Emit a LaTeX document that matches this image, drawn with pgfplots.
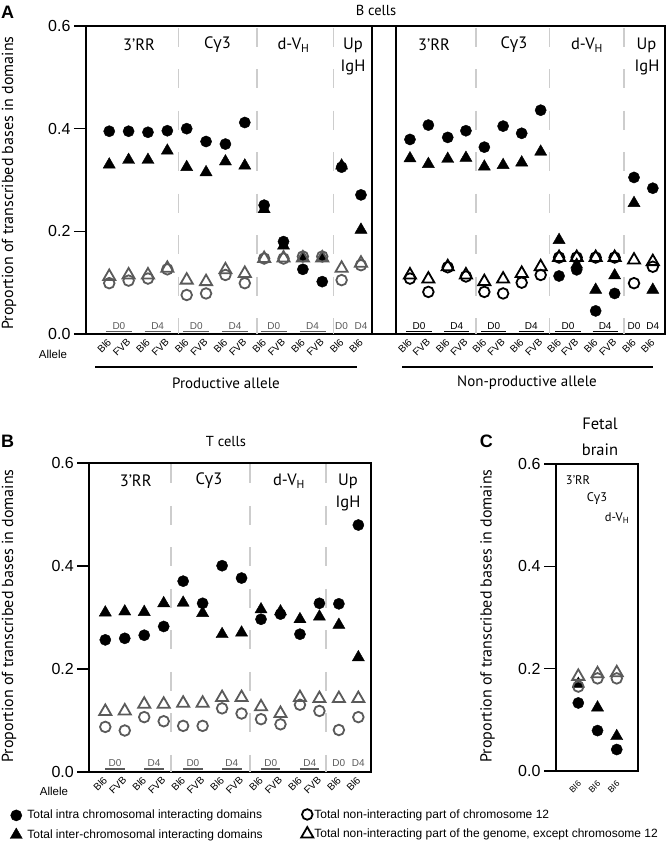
\documentclass[border=0pt]{standalone}
\usepackage{fontspec}
\setmainfont{PT Sans}
\newfontfamily\arial{Liberation Sans}
\newfontfamily\grf{Open Sans}
\usepackage{pgfplots}
\pgfplotsset{compat=1.18}
\usepackage{pgfplotstable}
\definecolor{og}{RGB}{90,90,90}
\definecolor{dsh}{RGB}{205,205,205}
\newcommand{\gam}{{\grf γ}}
\newcommand{\fs}[1]{\fontsize{#1}{#1}\selectfont}
% rotated allele label at an x position of the current axis
\newcommand{\xl}[2]{\node[font=\arial\fs{10}, inner sep=0pt, anchor=north east, xshift=-2.5pt, yshift=-4pt, rotate=45] at (axis cs:#1,0) {#2};}
\newcommand{\xlc}[2]{\node[font=\arial\fs{8.5}, inner sep=0pt, anchor=north east, xshift=-1pt, yshift=-9pt, rotate=45] at (axis cs:#1,0) {#2};}

\pgfplotstableread{
x fc ft oc ot
1 0.395 0.330 0.099 0.112
2 0.395 0.339 0.104 0.115
3 0.393 0.339 0.108 0.115
4 0.396 0.357 0.126 0.128
5 0.400 0.325 0.076 0.105
6 0.375 0.315 0.079 0.102
7 0.370 0.336 0.115 0.125
8 0.412 0.328 0.099 0.118
9 0.251 0.243 0.147 0.147
10 0.180 0.172 0.147 0.148
11 0.126 0.148 0.151 0.148
12 0.102 0.148 0.151 0.148
13 0.325 0.328 0.105 0.128
14 0.271 0.203 0.134 0.138
}\Aprod

\pgfplotstableread{
x fc ft oc ot
16.53 0.379 0.342 0.108 0.115
17.48 0.407 0.331 0.082 0.107
18.48 0.383 0.341 0.130 0.131
19.42 0.396 0.343 0.112 0.115
20.37 0.364 0.326 0.082 0.102
21.34 0.405 0.329 0.079 0.107
22.30 0.391 0.334 0.100 0.118
23.28 0.436 0.355 0.115 0.131
24.23 0.113 0.183 0.149 0.149
25.14 0.125 0.135 0.149 0.149
26.12 0.045 0.086 0.149 0.149
27.10 0.079 0.114 0.149 0.149
28.10 0.305 0.255 0.099 0.144
29.07 0.284 0.086 0.131 0.141
}\Anon

\pgfplotstableread{
x fc ft oc ot
1 0.256 0.309 0.087 0.117
2 0.259 0.311 0.080 0.118
3 0.265 0.310 0.106 0.131
4 0.282 0.327 0.098 0.131
5 0.370 0.328 0.089 0.133
6 0.327 0.308 0.089 0.133
7 0.400 0.267 0.123 0.144
8 0.376 0.270 0.113 0.144
9 0.296 0.315 0.102 0.126
10 0.306 0.311 0.092 0.113
11 0.267 0.296 0.130 0.144
12 0.327 0.301 0.118 0.142
13 0.326 0.285 0.081 0.142
14 0.479 0.222 0.106 0.142
}\Bdat

\pgfplotstableread{
x fc ft oc ot
1 0.133 0.170 0.165 0.185
2 0.079 0.124 0.181 0.190
3 0.042 0.068 0.181 0.192
}\Cdat

\pgfplotsset{
  fcs/.style={only marks, mark=*, mark size=5.6pt, mark options={draw=black, fill=black, line width=0.4pt}},
  fts/.style={only marks, mark=triangle*, mark size=7pt, mark options={draw=black, fill=black, line width=0.4pt}},
  ocs/.style={only marks, mark=o, mark size=5.3pt, mark options={draw=#1, line width=1.8pt}},
  ots/.style={only marks, mark=triangle, mark size=7pt, mark options={draw=#1, line width=1.8pt}},
  panel/.style={scale only axis, clip=false, ymin=0, ymax=0.6,
    axis line style={line width=2pt},
    ytick={0,0.2,0.4,0.6}, yticklabels={0.0,0.2,0.4,0.6},
    ytick pos=left, tick align=outside, major tick length=12pt,
    ytick style={line width=1.6pt, black},
    xtick=\empty,
    yticklabel style={font=\arial\fs{16}, anchor=east},
  },
}

\begin{document}
\begin{tikzpicture}
\path[use as bounding box] (0,0) rectangle (667pt,-844pt);

% ---------------- Panel A ----------------
\begin{axis}[panel, at={(86pt,-334pt)}, anchor=south west, width=579pt, height=308pt,
  xmin=-0.2, xmax=29.7,
]
\draw[dsh, line width=1.6pt, dash pattern=on 19pt off 22.5pt] (axis cs:4.57,0.597) -- (axis cs:4.57,0);
\draw[dsh, line width=1.6pt, dash pattern=on 19pt off 22.5pt] (axis cs:8.63,0.597) -- (axis cs:8.63,0);
\draw[dsh, line width=1.6pt, dash pattern=on 19pt off 22.5pt] (axis cs:12.58,0.597) -- (axis cs:12.58,0);
\draw[dsh, line width=1.6pt, dash pattern=on 19pt off 22.5pt] (axis cs:19.93,0.597) -- (axis cs:19.93,0);
\draw[dsh, line width=1.6pt, dash pattern=on 19pt off 22.5pt] (axis cs:23.73,0.597) -- (axis cs:23.73,0);
\draw[dsh, line width=1.6pt, dash pattern=on 19pt off 22.5pt] (axis cs:27.57,0.597) -- (axis cs:27.57,0);
\draw[line width=2pt] (axis cs:14.55,0) -- (axis cs:14.55,0.6);
\draw[line width=2pt] (axis cs:15.81,0) -- (axis cs:15.81,0.6);

\addplot[fcs] table[x=x,y=fc]{\Aprod};
\addplot[fts] table[x=x,y=ft]{\Aprod};
\addplot[ocs=og] table[x=x,y=oc]{\Aprod};
\addplot[ots=og] table[x=x,y=ot]{\Aprod};
\addplot[fcs] table[x=x,y=fc]{\Anon};
\addplot[fts] table[x=x,y=ft]{\Anon};
\addplot[ocs=black] table[x=x,y=oc]{\Anon};
\addplot[ots=black] table[x=x,y=ot]{\Anon};

\xl{1}{Bl6}\xl{2}{FVB}\xl{3}{Bl6}\xl{4}{FVB}
\xl{5}{Bl6}\xl{6}{FVB}\xl{7}{Bl6}\xl{8}{FVB}
\xl{9}{Bl6}\xl{10}{FVB}\xl{11}{Bl6}\xl{12}{FVB}
\xl{13}{Bl6}\xl{14}{Bl6}
\xl{16.53}{Bl6}\xl{17.48}{FVB}\xl{18.48}{Bl6}\xl{19.42}{FVB}
\xl{20.37}{Bl6}\xl{21.34}{FVB}\xl{22.30}{Bl6}\xl{23.28}{FVB}
\xl{24.23}{Bl6}\xl{25.14}{FVB}\xl{26.12}{Bl6}\xl{27.10}{FVB}
\xl{28.10}{Bl6}\xl{29.07}{Bl6}

% D0 / D4 labels
\begin{scope}[every node/.style={font=\arial\fs{10}, text=og, inner sep=0pt}]
\node at (axis cs:1.5,0.0155) {D0}; \draw[og, line width=1.5pt] (axis cs:0.83,0.0045) -- (axis cs:2.17,0.0045);
\node at (axis cs:3.5,0.0155) {D4}; \draw[og, line width=1.5pt] (axis cs:2.83,0.0045) -- (axis cs:4.17,0.0045);
\node at (axis cs:5.5,0.0155) {D0}; \draw[og, line width=1.5pt] (axis cs:4.83,0.0045) -- (axis cs:6.17,0.0045);
\node at (axis cs:7.5,0.0155) {D4}; \draw[og, line width=1.5pt] (axis cs:6.83,0.0045) -- (axis cs:8.17,0.0045);
\node at (axis cs:9.5,0.0155) {D0}; \draw[og, line width=1.5pt] (axis cs:8.83,0.0045) -- (axis cs:10.17,0.0045);
\node at (axis cs:11.5,0.0155) {D4}; \draw[og, line width=1.5pt] (axis cs:10.83,0.0045) -- (axis cs:12.17,0.0045);
\node at (axis cs:13,0.0155) {D0};
\node at (axis cs:14,0.0155) {D4};
\end{scope}
\begin{scope}[every node/.style={font=\arial\fs{10}, text=black, inner sep=0pt}]
\node at (axis cs:17.0,0.0155) {D0}; \draw[line width=1.5pt] (axis cs:16.35,0.0045) -- (axis cs:17.65,0.0045);
\node at (axis cs:18.95,0.0155) {D4}; \draw[line width=1.5pt] (axis cs:18.3,0.0045) -- (axis cs:19.6,0.0045);
\node at (axis cs:20.86,0.0155) {D0}; \draw[line width=1.5pt] (axis cs:20.21,0.0045) -- (axis cs:21.51,0.0045);
\node at (axis cs:22.79,0.0155) {D4}; \draw[line width=1.5pt] (axis cs:22.14,0.0045) -- (axis cs:23.44,0.0045);
\node at (axis cs:24.69,0.0155) {D0}; \draw[line width=1.5pt] (axis cs:24.04,0.0045) -- (axis cs:25.34,0.0045);
\node at (axis cs:26.61,0.0155) {D4}; \draw[line width=1.5pt] (axis cs:25.96,0.0045) -- (axis cs:27.26,0.0045);
\node at (axis cs:28.10,0.0155) {D0};
\node at (axis cs:29.07,0.0155) {D4};
\end{scope}
\end{axis}

% ---------------- Panel B ----------------
\begin{axis}[panel, at={(89.3pt,-771.7pt)}, anchor=south west, width=281.7pt, height=309pt,
  xmin=0.178, xmax=14.65,
  legend style={draw=none, fill=none, at={(-0.2815,-0.121)}, anchor=north west,
    font=\arial\fs{12}, inner sep=0pt, row sep=6.5pt, nodes={inner sep=1pt},
    /tikz/every odd column/.append style={column sep=4pt}},
  legend cell align=left,
]
\draw[dsh, line width=1.6pt, dash pattern=on 19pt off 22.5pt] (axis cs:4.38,0.597) -- (axis cs:4.38,0);
\draw[dsh, line width=1.6pt, dash pattern=on 19pt off 22.5pt] (axis cs:8.44,0.597) -- (axis cs:8.44,0);
\draw[dsh, line width=1.6pt, dash pattern=on 19pt off 22.5pt] (axis cs:12.35,0.597) -- (axis cs:12.35,0);
\addplot[fcs, forget plot] table[x=x,y=fc]{\Bdat};
\addplot[fts, forget plot] table[x=x,y=ft]{\Bdat};
\addplot[ocs=og, forget plot] table[x=x,y=oc]{\Bdat};
\addplot[ots=og, forget plot] table[x=x,y=ot]{\Bdat};
\addlegendimage{fcs}
\addlegendentry{Total intra chromosomal interacting domains}
\addlegendimage{fts}
\addlegendentry{Total inter-chromosomal interacting domains}
\xl{1}{Bl6}\xl{2}{FVB}\xl{3}{Bl6}\xl{4}{FVB}
\xl{5}{Bl6}\xl{6}{FVB}\xl{7}{Bl6}\xl{8}{FVB}
\xl{9}{Bl6}\xl{10}{FVB}\xl{11}{Bl6}\xl{12}{FVB}
\xl{13}{Bl6}\xl{14}{Bl6}
\begin{scope}[every node/.style={font=\arial\fs{10}, text=og, inner sep=0pt}]
\node at (axis cs:1.5,0.0175) {D0}; \draw[og, line width=1.5pt] (axis cs:1.0,0.005) -- (axis cs:2.0,0.005);
\node at (axis cs:3.5,0.0175) {D4}; \draw[og, line width=1.5pt] (axis cs:3.0,0.005) -- (axis cs:4.0,0.005);
\node at (axis cs:5.5,0.0175) {D0}; \draw[og, line width=1.5pt] (axis cs:5.0,0.005) -- (axis cs:6.0,0.005);
\node at (axis cs:7.5,0.0175) {D4}; \draw[og, line width=1.5pt] (axis cs:7.0,0.005) -- (axis cs:8.0,0.005);
\node at (axis cs:9.5,0.0175) {D0}; \draw[og, line width=1.5pt] (axis cs:9.0,0.005) -- (axis cs:10.0,0.005);
\node at (axis cs:11.5,0.0175) {D4}; \draw[og, line width=1.5pt] (axis cs:11.0,0.005) -- (axis cs:12.0,0.005);
\node at (axis cs:13,0.0175) {D0};
\node at (axis cs:14,0.0175) {D4};
\end{scope}
\end{axis}

% ---------------- Panel C ----------------
\begin{axis}[panel, at={(556pt,-771pt)}, anchor=south west, width=81.7pt, height=307pt,
  xmin=-0.16, xmax=4.09,
  legend style={draw=none, fill=none, at={(-3.121,-0.121)}, anchor=north west,
    font=\arial\fs{12}, inner sep=0pt, row sep=6.5pt, nodes={inner sep=1pt}},
  legend cell align=left,
]
\addplot[fcs, forget plot] table[x=x,y=fc]{\Cdat};
\addplot[fts, forget plot] table[x=x,y=ft]{\Cdat};
\addplot[ocs=og, forget plot] table[x=x,y=oc]{\Cdat};
\addplot[ots=og, forget plot] table[x=x,y=ot]{\Cdat};
\addlegendimage{ocs=black}
\addlegendentry{Total non-interacting part of chromosome 12}
\addlegendimage{ots=black}
\addlegendentry{Total non-interacting part of the genome, except chromosome 12}
\xlc{1}{Bl6}\xlc{2}{Bl6}\xlc{3}{Bl6}
\end{axis}

% ---------------- Text ----------------
\node[font=\arial\bfseries\fs{18}] at (7.5pt,-12.5pt) {A};
\node[font=\arial\bfseries\fs{18}] at (7.5pt,-441.7pt) {B};
\node[font=\arial\bfseries\fs{18}] at (486.3pt,-441.7pt) {C};
\node[font=\fs{14.5}] at (376pt,-10pt) {B cells};
\node[font=\fs{14.5}] at (226pt,-441.7pt) {T cells};
\node[font=\fs{16.5}] at (600pt,-424pt) {Fetal};
\node[font=\fs{16.5}] at (600pt,-450pt) {brain};
\node[font=\fs{16}, rotate=90] at (9pt,-183pt) {Proportion of transcribed bases in domains};
\node[font=\fs{16}, rotate=90] at (9pt,-616pt) {Proportion of transcribed bases in domains};
\node[font=\fs{16}, rotate=90] at (487.5pt,-616pt) {Proportion of transcribed bases in domains};

\begin{scope}[every node/.style={font=\fs{16.5}}]
\node at (139pt,-45pt) {3’RR};
\node at (217.5pt,-45pt) {C\gam3};
\node at (293.5pt,-45pt) {d-V\textsubscript{H}};
\node at (353pt,-45pt) {Up};
\node at (353pt,-67.5pt) {IgH};
\node at (434pt,-45pt) {3’RR};
\node at (514pt,-45pt) {C\gam3};
\node at (587pt,-45pt) {d-V\textsubscript{H}};
\node at (646.5pt,-45pt) {Up};
\node at (647pt,-67.5pt) {IgH};
\node at (135.7pt,-481pt) {3’RR};
\node at (209pt,-481pt) {C\gam3};
\node at (289pt,-481pt) {d-V\textsubscript{H}};
\node at (348pt,-481pt) {Up};
\node at (348pt,-503pt) {IgH};
\end{scope}
\begin{scope}[every node/.style={font=\fs{12.5}}]
\node at (578pt,-480pt) {3’RR};
\node at (597pt,-499pt) {C\gam3};
\node at (617pt,-518pt) {d-V\textsubscript{H}};
\end{scope}

\node[font=\arial\fs{11.5}] at (53pt,-354pt) {Allele};
\node[font=\arial\fs{11.5}] at (54pt,-791.5pt) {Allele};
\draw[line width=1.5pt] (95pt,-367pt) -- (357pt,-367pt);
\draw[line width=1.5pt] (402pt,-367pt) -- (653pt,-367pt);
\node[font=\fs{15}] at (226pt,-383pt) {Productive allele};
\node[font=\fs{15}] at (527pt,-383pt) {Non-productive allele};
\end{tikzpicture}
\end{document}
